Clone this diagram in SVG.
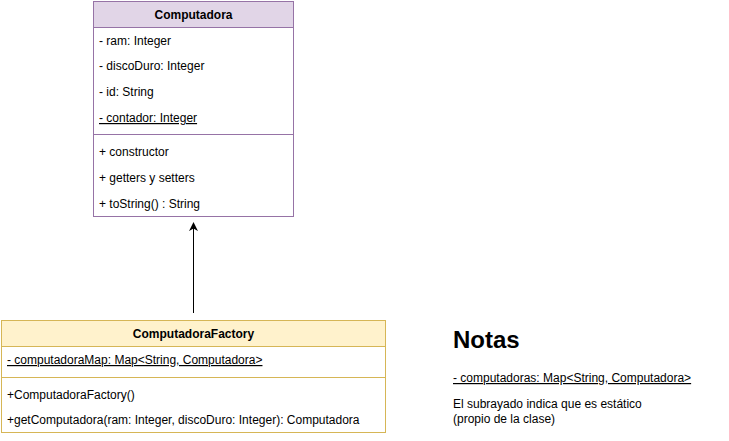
<svg xmlns="http://www.w3.org/2000/svg" width="729" height="441" viewBox="0 0 729 441">
<defs>
<style>
text{font-family:"Liberation Sans",Arial,Helvetica,sans-serif;font-size:12px;fill:#000}
.b{font-weight:bold}
.u{text-decoration:underline}
.c{text-anchor:middle}
.pu{fill:#e1d5e7;stroke:#9673a6;stroke-width:1}
.pw{fill:#ffffff;stroke:#9673a6;stroke-width:1}
.yu{fill:#fff2cc;stroke:#d6b656;stroke-width:1}
.yw{fill:#ffffff;stroke:#d6b656;stroke-width:1}
</style>
<marker id="ah" viewBox="0 0 10 10" refX="9" refY="5" markerWidth="9" markerHeight="9" orient="auto" markerUnits="userSpaceOnUse"><path d="M0,0 L10,5 L0,10 L3,5 Z" fill="#000"/></marker>
</defs>
<rect width="729" height="441" fill="#ffffff"/>
<g id="computadora">
<rect class="pw" x="93.5" y="1.5" width="200" height="215"/>
<rect class="pu" x="93.5" y="1.5" width="200" height="26"/>
<line x1="93.5" y1="134.5" x2="293.5" y2="134.5" stroke="#9673a6"/>
<text class="b c" x="193.5" y="19">Computadora</text>
<text x="99" y="45">- ram: Integer</text>
<text x="99" y="70">- discoDuro: Integer</text>
<text x="99" y="96">- id: String</text>
<text class="u" x="99" y="122">- contador: Integer</text>
<text x="99" y="156">+ constructor</text>
<text x="99" y="182">+ getters y setters</text>
<text x="99" y="208">+ toString() : String</text>
</g>
<g id="factory">
<rect class="yw" x="1.5" y="320.5" width="384" height="112"/>
<rect class="yu" x="1.5" y="320.5" width="384" height="26"/>
<line x1="1.5" y1="377.5" x2="385.5" y2="377.5" stroke="#d6b656"/>
<text class="b c" x="193.5" y="338">ComputadoraFactory</text>
<text class="u" x="7" y="364">- computadoraMap: Map&lt;String, Computadora&gt;</text>
<text x="7" y="399">+ComputadoraFactory()</text>
<text x="7" y="424">+getComputadora(ram: Integer, discoDuro: Integer): Computadora</text>
</g>
<g id="notas">
<text class="b" x="453" y="348" style="font-size:24px">Notas</text>
<text class="u" x="453" y="382">- computadoras: Map&lt;String, Computadora&gt;</text>
<text x="453" y="408">El subrayado indica que es estático</text>
<text x="453" y="423">(propio de la clase)</text>
</g>
<g id="connectors">
<line x1="193.5" y1="313" x2="193.5" y2="223" stroke="#000" stroke-width="1" marker-end="url(#ah)"/>
</g>
</svg>
